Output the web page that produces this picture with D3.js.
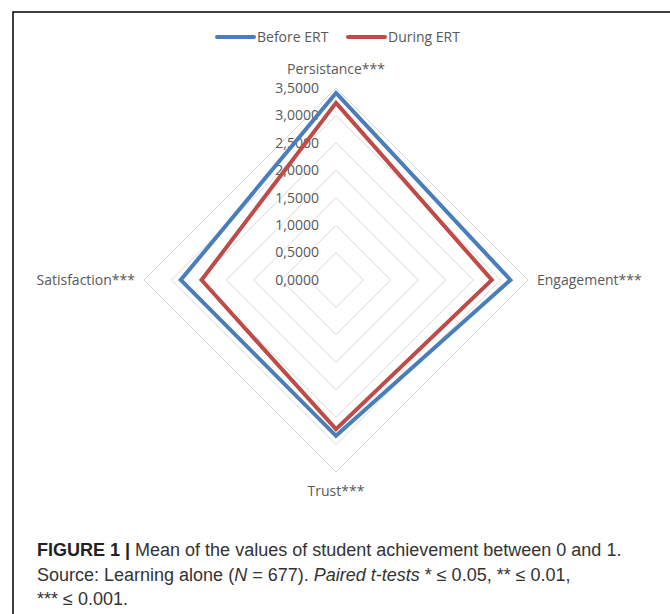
<!DOCTYPE html>
<html>
<head>
<meta charset="utf-8">
<script src="https://cdn.jsdelivr.net/npm/d3@7"></script>
<style>
  body { margin: 0; background: #fff; }
  svg { display: block; }
</style>
</head>
<body>
<svg class="plot" width="670" height="614"></svg>
<script>
// chart data
var axes = ["Persistance***", "Engagement***", "Trust***", "Satisfaction***"]
var seriesNames = ["Before ERT", "During ERT"]
var beforeERT = [3.41, 3.18, 2.84, 2.83]
var duringERT = [3.23, 2.84, 2.72, 2.45]
var tickValues = [0, 0.5, 1, 1.5, 2, 2.5, 3, 3.5]
var colors = ["#4a7ebb", "#be4b48"]

var cx = 336, cy = 280, R = 192
var chartFont = "'Open Sans', Lato, sans-serif"

var svg = d3.select(".plot")

// frame around figure
svg.append("path")
    .attr("d", "M13,614 L13,12 L670,12")
    .attr("fill", "none")
    .attr("stroke", "#000")
    .attr("stroke-width", 1.5)

var r = d3.scaleLinear().domain([0, 3.5]).range([0, R])
var angle = d3.scalePoint().domain(axes).range([0, 2 * Math.PI * 3 / 4])

let plot = svg.append("g")
    .attr("transform", `translate(${cx}, ${cy})`)

// grid diamonds
var radial = d3.lineRadial()
    .curve(d3.curveLinearClosed)

plot.selectAll(".grid")
    .data(tickValues.slice(1))
    .enter()
    .append("path")
    .attr("class", "grid")
    .attr("d", v => radial(axes.map(a => [angle(a), r(v)])))
    .attr("fill", "none")
    .attr("stroke", "#d9d9d9")
    .attr("stroke-width", 1)

// tick labels
plot.selectAll(".tick")
    .data(tickValues)
    .enter()
    .append("text")
    .attr("x", -17)
    .attr("y", v => -r(v))
    .attr("dy", "0.35em")
    .attr("text-anchor", "end")
    .attr("font-family", chartFont)
    .attr("font-size", 14)
    .attr("fill", "#595959")
    .text(v => d3.format(".4f")(v).replace(".", ","))

// series
var series = [beforeERT, duringERT]
plot.selectAll(".series")
    .data(series)
    .enter()
    .append("path")
    .attr("class", "series")
    .attr("d", vals => radial(axes.map((a, i) => [angle(a), r(vals[i])])))
    .attr("fill", "none")
    .attr("stroke", (d, i) => colors[i])
    .attr("stroke-width", 4)
    .attr("stroke-linejoin", "miter")

// axis labels
var labelPos = [
    {x: 0, y: -r(3.5) - 19, anchor: "middle"},
    {x: r(3.5) + 9, y: 0, anchor: "start"},
    {x: 0, y: r(3.5) + 19, anchor: "middle"},
    {x: -r(3.5) - 9, y: 0, anchor: "end"}
]
plot.selectAll(".axlabel")
    .data(axes)
    .enter()
    .append("text")
    .attr("x", (d, i) => labelPos[i].x)
    .attr("y", (d, i) => labelPos[i].y)
    .attr("dy", "0.35em")
    .attr("text-anchor", (d, i) => labelPos[i].anchor)
    .attr("font-family", chartFont)
    .attr("font-size", 14)
    .attr("fill", "#595959")
    .text(d => d)

// legend
var legendX = [217, 348]
var legend = svg.selectAll(".legend")
    .data(seriesNames)
    .enter()
    .append("g")
    .attr("transform", (d, i) => `translate(${legendX[i]}, 37)`)

legend.append("line")
    .attr("x1", 0).attr("x2", 37)
    .attr("stroke", (d, i) => colors[i])
    .attr("stroke-width", 4)
    .attr("stroke-linecap", "round")

legend.append("text")
    .attr("x", 40)
    .attr("dy", "0.35em")
    .attr("font-family", chartFont)
    .attr("font-size", 14)
    .attr("fill", "#595959")
    .text(d => d)

// caption
var cap = svg.append("text")
    .attr("font-family", "'Liberation Sans', Arial, sans-serif")
    .attr("font-size", 18)
    .attr("fill", "#333")

var l1 = cap.append("tspan").attr("x", 37).attr("y", 556)
l1.append("tspan").attr("font-weight", "bold").attr("fill", "#222").text("FIGURE 1 | ")
l1.append("tspan").text("Mean of the values of student achievement between 0 and 1.")

var l2 = cap.append("tspan").attr("x", 37).attr("y", 581)
l2.append("tspan").text("Source: Learning alone (")
l2.append("tspan").attr("font-style", "italic").text("N")
l2.append("tspan").text(" = 677). ")
l2.append("tspan").attr("font-style", "italic").text("Paired t-tests")
l2.append("tspan").text(" * ≤ 0.05, ** ≤ 0.01,")

var l3 = cap.append("tspan").attr("x", 37).attr("y", 605)
l3.append("tspan").text("*** ≤ 0.001.")
</script>
</body>
</html>
